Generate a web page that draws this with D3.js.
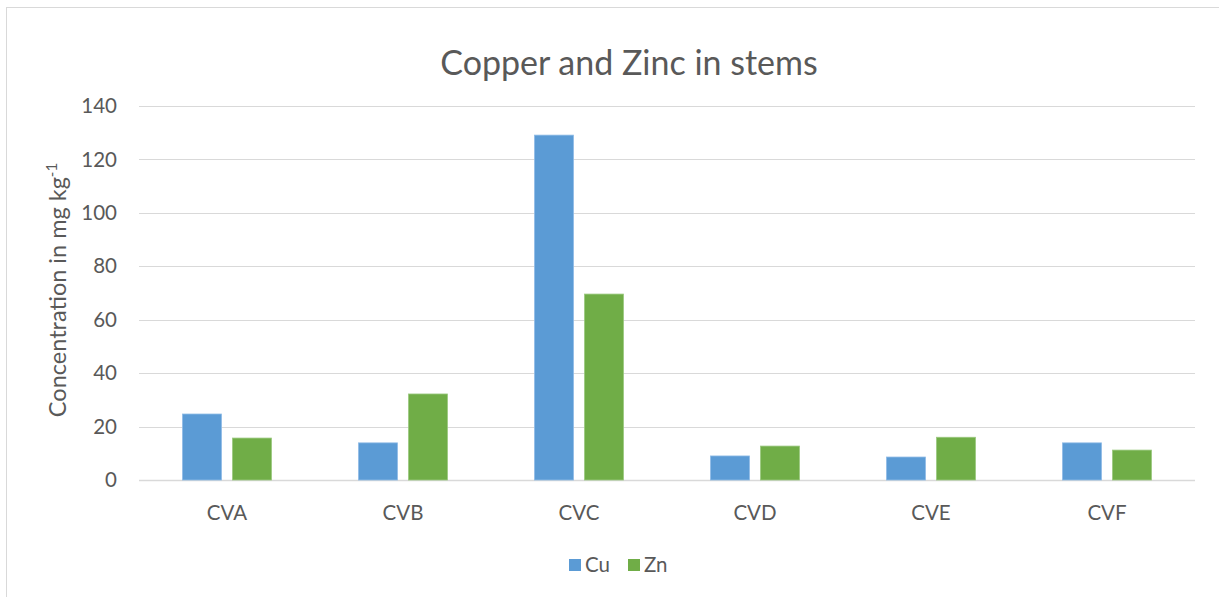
<!DOCTYPE html>
<html>
<head>
<meta charset="utf-8">
<script src="https://cdn.jsdelivr.net/npm/d3@7"></script>
<style>
  html, body { margin: 0; padding: 0; background: #fff; }
  svg { display: block; }
  text { font-family: Lato, "Open Sans", sans-serif; fill: #595959; }
</style>
</head>
<body>
<svg id="chart" width="1219" height="597"></svg>
<script>
// Sample sites and measured concentrations (mg kg-1)
const categories = ["CVA", "CVB", "CVC", "CVD", "CVE", "CVF"];
const seriesNames = ["Cu", "Zn"];
const cuValues = [24.7, 13.9, 129.1, 9.0, 8.6, 13.9];
const znValues = [15.7, 32.2, 69.6, 12.7, 16.0, 11.2];
const yTicks = [0, 20, 40, 60, 80, 100, 120, 140];
const colors = ["#5B9BD5", "#70AD47"];

const svg = d3.select("#chart");
const W = 1219, H = 597;
const plot = { left: 139, right: 1195, top: 106, bottom: 480 };

// Chart area border
svg.append("rect")
  .attr("x", 6.5).attr("y", 7.5)
  .attr("width", W - 6).attr("height", H)
  .attr("fill", "#fff").attr("stroke", "#d9d9d9").attr("stroke-width", 1);

const x0 = d3.scaleBand().domain(categories).range([plot.left, plot.right]).paddingInner(0).paddingOuter(0);
const x1 = d3.scaleBand().domain(seriesNames).range([43.5, x0.bandwidth() - 43.5]).paddingInner(0.22);
const y = d3.scaleLinear().domain([0, 140]).range([plot.bottom, plot.top]);

// Gridlines
svg.append("g").selectAll("line").data(yTicks).join("line")
  .attr("x1", plot.left).attr("x2", plot.right)
  .attr("y1", d => Math.round(y(d)) + 0.5).attr("y2", d => Math.round(y(d)) + 0.5)
  .attr("stroke", "#d9d9d9").attr("stroke-width", d => d === 0 ? 1.5 : 1);

// Y tick labels
svg.append("g").selectAll("text").data(yTicks).join("text")
  .attr("x", 117).attr("y", d => y(d))
  .attr("dy", "0.35em").attr("text-anchor", "end")
  .attr("font-size", 20.5)
  .text(d => d);

// Bars
const rows = categories.map((c, i) => ({ cat: c, vals: [cuValues[i], znValues[i]] }));
const groups = svg.append("g").selectAll("g").data(rows).join("g")
  .attr("transform", d => `translate(${x0(d.cat)},0)`);
groups.selectAll("rect").data(d => d.vals.map((v, j) => ({ key: seriesNames[j], v, j }))).join("rect")
  .attr("x", d => x1(d.key))
  .attr("width", x1.bandwidth())
  .attr("y", d => y(d.v))
  .attr("height", d => y(0) - y(d.v))
  .attr("fill", d => colors[d.j])
  .attr("stroke", d => d.j === 0 ? "#8fbbe6" : "#9bc97f")
  .attr("stroke-width", 0.8);

// X category labels
svg.append("g").selectAll("text").data(categories).join("text")
  .attr("x", d => x0(d) + x0.bandwidth() / 2)
  .attr("y", 513).attr("dy", "0.35em")
  .attr("text-anchor", "middle")
  .attr("font-size", 20.5)
  .text(d => d);

// Title
svg.append("text")
  .attr("x", 629).attr("y", 63).attr("dy", "0.35em")
  .attr("text-anchor", "middle")
  .attr("font-size", 34)
  .text("Copper and Zinc in stems");

// Y axis title with superscript
const yt = svg.append("text")
  .attr("transform", "translate(66,290) rotate(-90)")
  .attr("text-anchor", "middle")
  .attr("font-size", 23.5);
yt.append("tspan").text("Concentration in mg kg");
yt.append("tspan").attr("dy", -9).attr("font-size", 15).text("-1");

// Legend
const legend = svg.append("g").attr("transform", "translate(569,565)");
const items = legend.selectAll("g").data(seriesNames).join("g")
  .attr("transform", (d, i) => `translate(${i * 59},0)`);
items.append("rect").attr("x", 0).attr("y", -6).attr("width", 12).attr("height", 12)
  .attr("fill", (d, i) => colors[i]);
items.append("text").attr("x", 16).attr("y", 0).attr("dy", "0.35em")
  .attr("font-size", 20.5).text(d => d);
</script>
</body>
</html>
